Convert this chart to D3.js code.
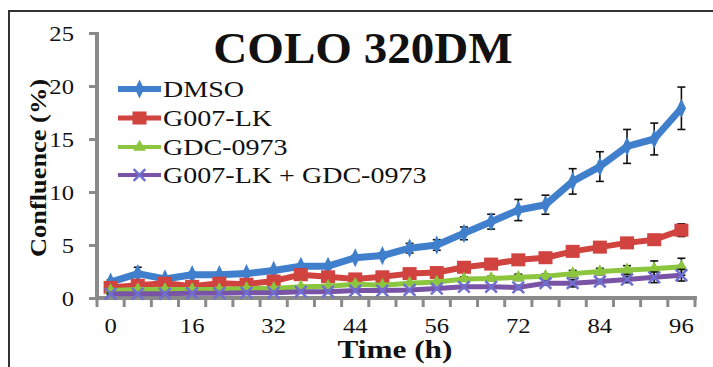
<!DOCTYPE html>
<html>
<head>
<meta charset="utf-8">
<script src="https://cdn.jsdelivr.net/npm/d3@7/dist/d3.min.js"></script>
<style>
  html, body { margin: 0; padding: 0; background: #fff; }
  svg { display: block; }
  text { font-family: "Liberation Serif", "Times New Roman", serif; fill: #111; }
</style>
</head>
<body>
<div id="chart"></div>
<script>
// time points (h) - only every third one is labelled on the axis
const times = [0, 5, 11, 16, 21, 27, 32, 36, 40, 44, 48, 52, 56, 61, 67, 72, 76, 80, 84, 88, 92, 96];
const tickTimes = [0, 16, 32, 44, 56, 72, 84, 96];
const yTicks = [0, 5, 10, 15, 20, 25];

const seriesNames = ['DMSO', 'G007-LK', 'GDC-0973', 'G007-LK + GDC-0973'];

const dmso = [1.5, 2.3, 1.8, 2.2, 2.2, 2.3, 2.6, 3.0, 3.0, 3.8, 4.0, 4.7, 5.0, 6.1, 7.2, 8.3, 8.8, 11.0, 12.4, 14.3, 15.0, 17.9];
const dmsoErr = [0.2, 0.6, 0.2, 0.2, 0.2, 0.2, 0.2, 0.2, 0.2, 0.2, 0.25, 0.45, 0.5, 0.6, 0.7, 1.0, 0.9, 1.2, 1.4, 1.6, 1.5, 2.0];

const g007 = [1.0, 1.2, 1.4, 1.1, 1.4, 1.3, 1.6, 2.2, 2.0, 1.8, 2.0, 2.3, 2.4, 2.9, 3.2, 3.6, 3.8, 4.4, 4.8, 5.2, 5.5, 6.4];
const g007Err = [0.2, 0.3, 0.2, 0.2, 0.2, 0.2, 0.2, 0.5, 0.2, 0.2, 0.2, 0.2, 0.2, 0.2, 0.2, 0.2, 0.2, 0.2, 0.2, 0.2, 0.2, 0.6];

const gdc = [0.7, 0.8, 0.8, 0.8, 0.8, 0.9, 0.9, 1.05, 1.1, 1.3, 1.2, 1.4, 1.5, 1.8, 1.85, 1.95, 2.05, 2.3, 2.5, 2.65, 2.75, 2.95];
const gdcErr = [0.1, 0.1, 0.1, 0.1, 0.1, 0.1, 0.1, 0.1, 0.1, 0.1, 0.1, 0.1, 0.1, 0.2, 0.2, 0.3, 0.2, 0.3, 0.3, 0.4, 0.75, 0.8];

const combo = [0.4, 0.4, 0.4, 0.45, 0.45, 0.5, 0.5, 0.6, 0.6, 0.7, 0.7, 0.75, 0.9, 1.05, 1.05, 1.0, 1.4, 1.4, 1.55, 1.75, 1.95, 2.15];
const comboErr = [0.1, 0.1, 0.1, 0.1, 0.1, 0.1, 0.1, 0.1, 0.1, 0.1, 0.1, 0.1, 0.1, 0.15, 0.15, 0.2, 0.2, 0.35, 0.2, 0.3, 0.5, 0.55];

const colors = ['#3f7fcc', '#d0433f', '#8cc63f', '#7953a6'];

const W = 713, H = 367;
const svg = d3.select('#chart').append('svg')
  .attr('width', W).attr('height', H);

// outer frame (runs off the right and bottom edges)
svg.append('path')
  .attr('d', `M9,${H} V11 H${W}`)
  .attr('fill', 'none')
  .attr('stroke', '#333')
  .attr('stroke-width', 2);

const x = d3.scaleBand()
  .domain(times)
  .range([97, 695])
  .padding(0);
const cx = d => x(d) + x.bandwidth() / 2;

const y = d3.scaleLinear()
  .domain([0, 25])
  .range([298, 33]);

// stretched serif text, like the original picture
function stext(x0, y0, str, size, anchor, sx, weight) {
  return svg.append('text')
    .attr('transform', `translate(${x0},${y0}) scale(${sx},1)`)
    .attr('text-anchor', anchor)
    .style('font-size', size + 'px')
    .style('font-weight', weight || 'normal')
    .text(str);
}

// y axis
const yAxis = svg.append('g')
  .attr('transform', 'translate(97,0)')
  .call(d3.axisLeft(y).tickValues(yTicks).tickSize(8).tickFormat(''));
yAxis.select('.domain').attr('stroke', '#8a8a8a').attr('stroke-width', 4)
  .attr('d', `M0,${y(25) - 1}V${y(0) + 2}`);
yAxis.selectAll('.tick line').attr('stroke', '#8a8a8a').attr('stroke-width', 3);
yTicks.forEach(v => stext(74, y(v) + 8, v, 22, 'end', 1.12));

// x axis
const xAxis = svg.append('g')
  .attr('transform', 'translate(0,298)');
xAxis.append('line')
  .attr('x1', 95).attr('x2', 697)
  .attr('stroke', '#8a8a8a').attr('stroke-width', 4);
xAxis.selectAll('.xtick')
  .data(times.concat(['end']))
  .enter().append('line')
  .attr('x1', d => d === 'end' ? 695 : x(d))
  .attr('x2', d => d === 'end' ? 695 : x(d))
  .attr('y1', 0).attr('y2', 9)
  .attr('stroke', '#8a8a8a').attr('stroke-width', 3);
tickTimes.forEach(t => stext(cx(t), 333, t, 22, 'middle', 1.12));

// axis titles
stext(395, 358, 'Time (h)', 25, 'middle', 1.25, 'bold');
svg.append('text')
  .attr('transform', 'translate(46,168) rotate(-90) scale(1.1,1)')
  .attr('text-anchor', 'middle')
  .style('font-size', '24px')
  .style('font-weight', 'bold')
  .text('Confluence (%)');

// chart title
stext(363, 63, 'COLO 320DM', 44, 'middle', 1.07, 'bold');

// markers
const diamond = d3.symbol().type(d3.symbolDiamond).size(80);
const triangle = d3.symbol().type(d3.symbolTriangle).size(70);
const cross = d3.symbol().type(d3.symbolX).size(90);

function marker(g, i, px, py) {
  if (i === 0) {
    g.append('path').attr('d', diamond()).attr('transform', `translate(${px},${py}) scale(0.95,1.15)`)
      .attr('fill', colors[0]);
  } else if (i === 1) {
    g.append('rect').attr('x', px - 7).attr('y', py - 6.5).attr('width', 14).attr('height', 13)
      .attr('fill', colors[1]);
  } else if (i === 2) {
    g.append('path').attr('d', triangle()).attr('transform', `translate(${px},${py})`)
      .attr('fill', colors[2]);
  } else {
    g.append('path').attr('d', cross()).attr('transform', `translate(${px},${py})`)
      .attr('fill', 'none').attr('stroke', '#6f6fd0').attr('stroke-width', 2.5);
  }
}

const series = [
  {vals: dmso, err: dmsoErr, width: 7},
  {vals: g007, err: g007Err, width: 6},
  {vals: gdc, err: gdcErr, width: 5},
  {vals: combo, err: comboErr, width: 5}
];

const line = d3.line()
  .x((d, i) => cx(times[i]))
  .y(d => y(d));

series.forEach((s, si) => {
  const g = svg.append('g');
  // error bars
  s.vals.forEach((v, i) => {
    const px = cx(times[i]);
    const e = s.err[i];
    const eb = g.append('g').attr('stroke', '#111').attr('stroke-width', 1.6);
    eb.append('line').attr('x1', px).attr('x2', px).attr('y1', y(v - e)).attr('y2', y(v + e));
    eb.append('line').attr('x1', px - 4).attr('x2', px + 4).attr('y1', y(v - e)).attr('y2', y(v - e));
    eb.append('line').attr('x1', px - 4).attr('x2', px + 4).attr('y1', y(v + e)).attr('y2', y(v + e));
  });
  g.append('path')
    .datum(s.vals)
    .attr('d', line)
    .attr('fill', 'none')
    .attr('stroke', colors[si])
    .attr('stroke-width', s.width)
    .attr('stroke-linejoin', 'round');
  s.vals.forEach((v, i) => marker(g, si, cx(times[i]), y(v)));
});

// legend
const legY = [89, 118, 147, 175];
seriesNames.forEach((name, i) => {
  const g = svg.append('g');
  g.append('line')
    .attr('x1', 118).attr('x2', 161)
    .attr('y1', legY[i]).attr('y2', legY[i])
    .attr('stroke', colors[i])
    .attr('stroke-width', series[i].width - 1);
  marker(g, i, 139.5, legY[i]);
  stext(163, legY[i] + 8, name, 23, 'start', 1.22);
});
</script>
</body>
</html>
